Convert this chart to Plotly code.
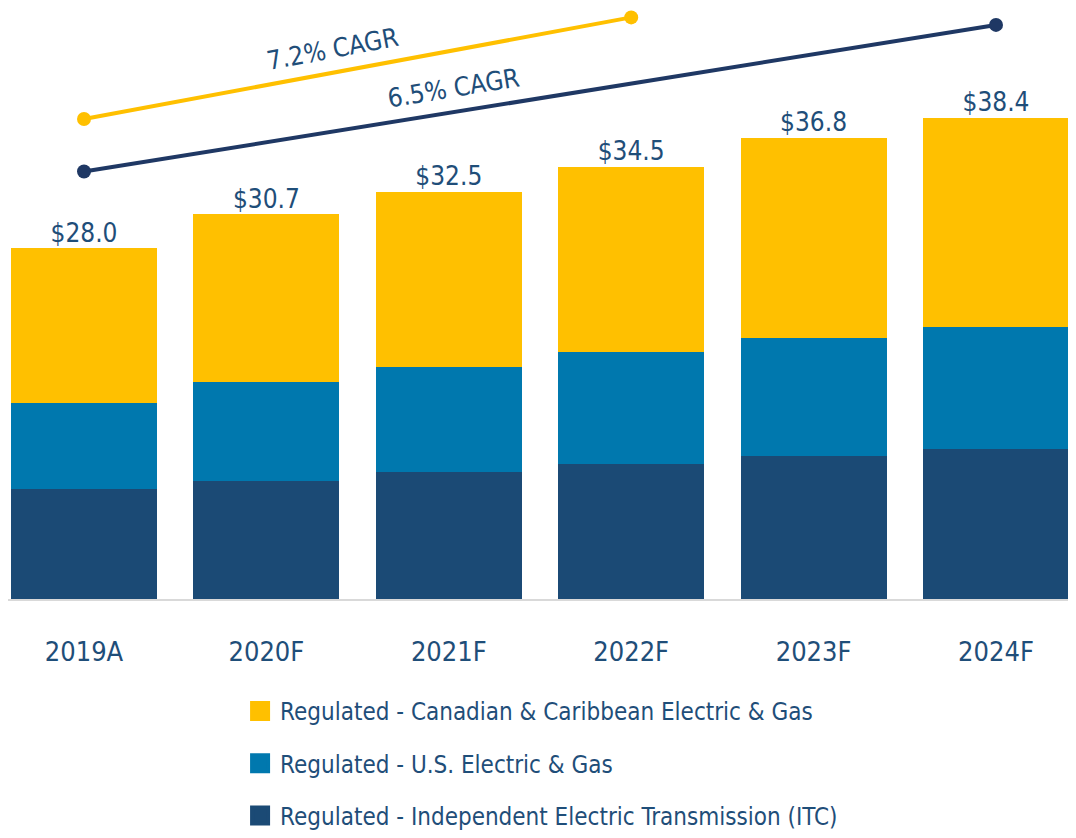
import plotly.graph_objects as go

categories = ["2019A", "2020F", "2021F", "2022F", "2023F", "2024F"]
itc = [8.8, 9.4, 10.1, 10.8, 11.4, 12.0]
us_gas = [6.8, 7.9, 8.4, 8.9, 9.4, 9.7]
can_carib = [12.4, 13.4, 14.0, 14.8, 16.0, 16.7]
totals = [28.0, 30.7, 32.5, 34.5, 36.8, 38.4]
total_labels = ["$28.0", "$30.7", "$32.5", "$34.5", "$36.8", "$38.4"]

series_names = [
    "Regulated - Independent Electric Transmission (ITC)",
    "Regulated - U.S. Electric & Gas",
    "Regulated - Canadian & Caribbean Electric & Gas",
]

cagr_yellow_x = ["2019A", "2022F"]
cagr_yellow_y = [38.3, 46.4]
cagr_yellow_label = "7.2% CAGR"
cagr_navy_x = ["2019A", "2024F"]
cagr_navy_y = [34.1, 45.8]
cagr_navy_label = "6.5% CAGR"

NAVY = "#1B4A75"
TEAL = "#0078AE"
YELLOW = "#FFC000"
LINE_NAVY = "#1F3864"
TEXT = "#1F4E79"
FONT = "DejaVu Sans Condensed, Liberation Sans Narrow, Roboto, sans-serif"

fig = go.Figure()
for vals, color in zip([itc, us_gas, can_carib], [NAVY, TEAL, YELLOW]):
    fig.add_trace(go.Bar(x=categories, y=vals, marker_color=color,
                         marker_line_width=0, showlegend=False, hoverinfo="skip"))

fig.add_trace(go.Scatter(x=categories, y=totals, mode="text", text=total_labels,
                         textposition="top center", cliponaxis=False,
                         textfont=dict(family=FONT, size=26, color=TEXT),
                         showlegend=False, hoverinfo="skip"))

fig.add_trace(go.Scatter(x=cagr_yellow_x, y=cagr_yellow_y, mode="lines+markers",
                         line=dict(color=YELLOW, width=4),
                         marker=dict(size=14, color=YELLOW), cliponaxis=False,
                         showlegend=False, hoverinfo="skip"))
fig.add_trace(go.Scatter(x=cagr_navy_x, y=cagr_navy_y, mode="lines+markers",
                         line=dict(color=LINE_NAVY, width=4),
                         marker=dict(size=14, color=LINE_NAVY), cliponaxis=False,
                         showlegend=False, hoverinfo="skip"))

# legend entries (top to bottom)
for i, (name, color) in enumerate(zip(series_names[::-1], [YELLOW, TEAL, NAVY])):
    fig.add_trace(go.Scatter(x=[None], y=[None], mode="markers", name=name,
                             legendgroup=str(i),
                             marker=dict(symbol="square", size=16, color=color,
                                         line=dict(color=color, width=4))))

fig.add_annotation(x=1.36, y=43.9, xref="x", yref="y", text=cagr_yellow_label,
                   showarrow=False, textangle=-10.7,
                   font=dict(family=FONT, size=26, color=TEXT))
fig.add_annotation(x=2.023, y=40.74, xref="x", yref="y", text=cagr_navy_label,
                   showarrow=False, textangle=-9.3,
                   font=dict(family=FONT, size=26, color=TEXT))

fig.update_layout(
    width=1068, height=830,
    margin=dict(l=0, r=0, t=0, b=234),
    barmode="stack", bargap=0.2,
    plot_bgcolor="white", paper_bgcolor="white",
    font=dict(family=FONT, color=TEXT),
    xaxis=dict(type="category", range=[-0.4167, 5.4386], showgrid=False,
               showline=True, linecolor="#D9D9D9", linewidth=2, ticks="",
               ticklabelstandoff=28,
               tickfont=dict(family=FONT, size=27, color=TEXT), fixedrange=True),
    yaxis=dict(range=[0, 47.15], visible=False, fixedrange=True),
    legend=dict(x=0.2173, y=-0.1527, xanchor="left", yanchor="top",
                orientation="v", tracegroupgap=18,
                font=dict(family=FONT, size=24, color=TEXT),
                bgcolor="rgba(0,0,0,0)"),
)

fig.write_html("out.html")
